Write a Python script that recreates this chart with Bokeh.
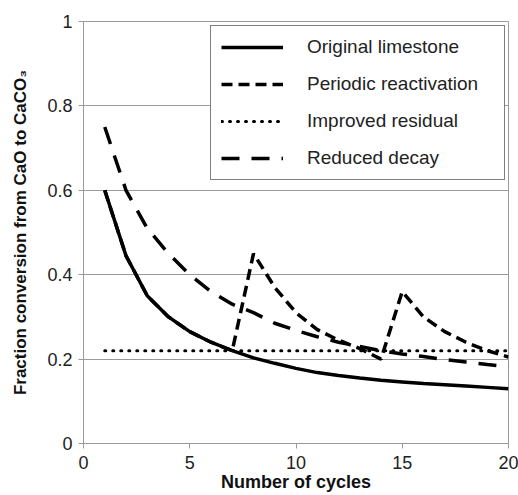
from bokeh.plotting import figure
from bokeh.models import FixedTicker, CustomJSTickFormatter, Legend, LegendItem, Range1d
from bokeh.embed import file_html
from bokeh.resources import INLINE

cycles = [1, 2, 3, 4, 5, 6, 7, 8, 9, 10, 11, 12, 13, 14, 15, 16, 17, 18, 19, 20]
original = [0.60, 0.445, 0.35, 0.30, 0.265, 0.24, 0.22, 0.203, 0.19, 0.178,
            0.168, 0.161, 0.155, 0.15, 0.146, 0.142, 0.139, 0.136, 0.133, 0.13]
periodic = [0.60, 0.445, 0.35, 0.30, 0.265, 0.24, 0.22, 0.45, 0.37, 0.31,
            0.27, 0.245, 0.225, 0.20, 0.36, 0.30, 0.265, 0.24, 0.22, 0.205]
improved = [0.22, 0.22, 0.22, 0.22, 0.22, 0.22, 0.22, 0.22, 0.22, 0.22,
            0.22, 0.22, 0.22, 0.22, 0.22, 0.22, 0.22, 0.22, 0.22, 0.22]
reduced = [0.75, 0.60, 0.51, 0.45, 0.40, 0.36, 0.33, 0.31, 0.285, 0.268,
           0.253, 0.24, 0.23, 0.22, 0.212, 0.206, 0.199, 0.193, 0.187, 0.182]
labels = ["Original limestone", "Periodic reactivation", "Improved residual", "Reduced decay"]
x_ticks = [0, 5, 10, 15, 20]
y_ticks = [0, 0.2, 0.4, 0.6, 0.8, 1.0]

FONT = "Liberation Sans"
GRAY = "#9a9a9a"

p = figure(width=518, height=495, output_backend="svg", toolbar_location=None,
           x_range=Range1d(0, 20), y_range=Range1d(0, 1),
           min_border_left=83, min_border_right=10, min_border_top=21, min_border_bottom=52)
p.background_fill_color = "white"
p.border_fill_color = "white"
p.outline_line_color = GRAY
p.outline_line_width = 1

p.xgrid.visible = False
p.ygrid.ticker = FixedTicker(ticks=y_ticks)
p.ygrid.grid_line_color = GRAY
p.ygrid.grid_line_width = 1

p.xaxis.ticker = FixedTicker(ticks=x_ticks)
p.yaxis.ticker = FixedTicker(ticks=y_ticks)
p.yaxis.formatter = CustomJSTickFormatter(code="return (Math.round(tick*10)/10).toString();")

for ax in (p.xaxis, p.yaxis):
    ax.axis_line_color = GRAY
    ax.major_tick_line_color = GRAY
    ax.minor_tick_line_color = None
    ax.major_tick_in = 0
    ax.major_tick_out = 5
    ax.major_label_text_font = FONT
    ax.major_label_text_font_size = "18px"
    ax.major_label_text_color = "#222222"
    ax.axis_label_text_font = FONT
    ax.axis_label_text_font_style = "bold"
    ax.axis_label_text_color = "#111111"

p.xaxis.axis_label_text_font_size = "18px"
p.yaxis.axis_label_text_font_size = "17px"
p.xaxis.major_label_standoff = 7
p.xaxis.axis_label_standoff = 0
p.yaxis.major_label_standoff = 6
p.yaxis.axis_label_standoff = 14
p.xaxis.axis_label = "Number of cycles"
p.yaxis.axis_label = "Fraction conversion from CaO to CaCO\u2083"

r1 = p.line(cycles, original, line_color="black", line_width=3.5)
r2 = p.line(cycles, periodic, line_color="black", line_width=3.5, line_dash="11 6")
r3 = p.line(cycles, improved, line_color="black", line_width=3, line_dash="1 7", line_cap="round")
r4 = p.line(cycles, reduced, line_color="black", line_width=3.5, line_dash="18 12")

legend = Legend(items=[LegendItem(label=labels[0], renderers=[r1]),
                       LegendItem(label=labels[1], renderers=[r2]),
                       LegendItem(label=labels[2], renderers=[r3]),
                       LegendItem(label=labels[3], renderers=[r4])],
                location=(127, 263))
legend.border_line_color = "black"
legend.border_line_width = 1
legend.background_fill_color = "white"
legend.background_fill_alpha = 1
legend.padding = 10
legend.spacing = 15
legend.margin = 0
legend.glyph_width = 62
legend.glyph_height = 20
legend.label_height = 20
legend.label_width = 187
legend.label_standoff = 24
legend.label_text_font = FONT
legend.label_text_font_size = "19px"
legend.label_text_color = "#222222"
legend.label_text_baseline = "middle"
p.add_layout(legend, "center")

open("out.html", "w").write(file_html(p, INLINE))
